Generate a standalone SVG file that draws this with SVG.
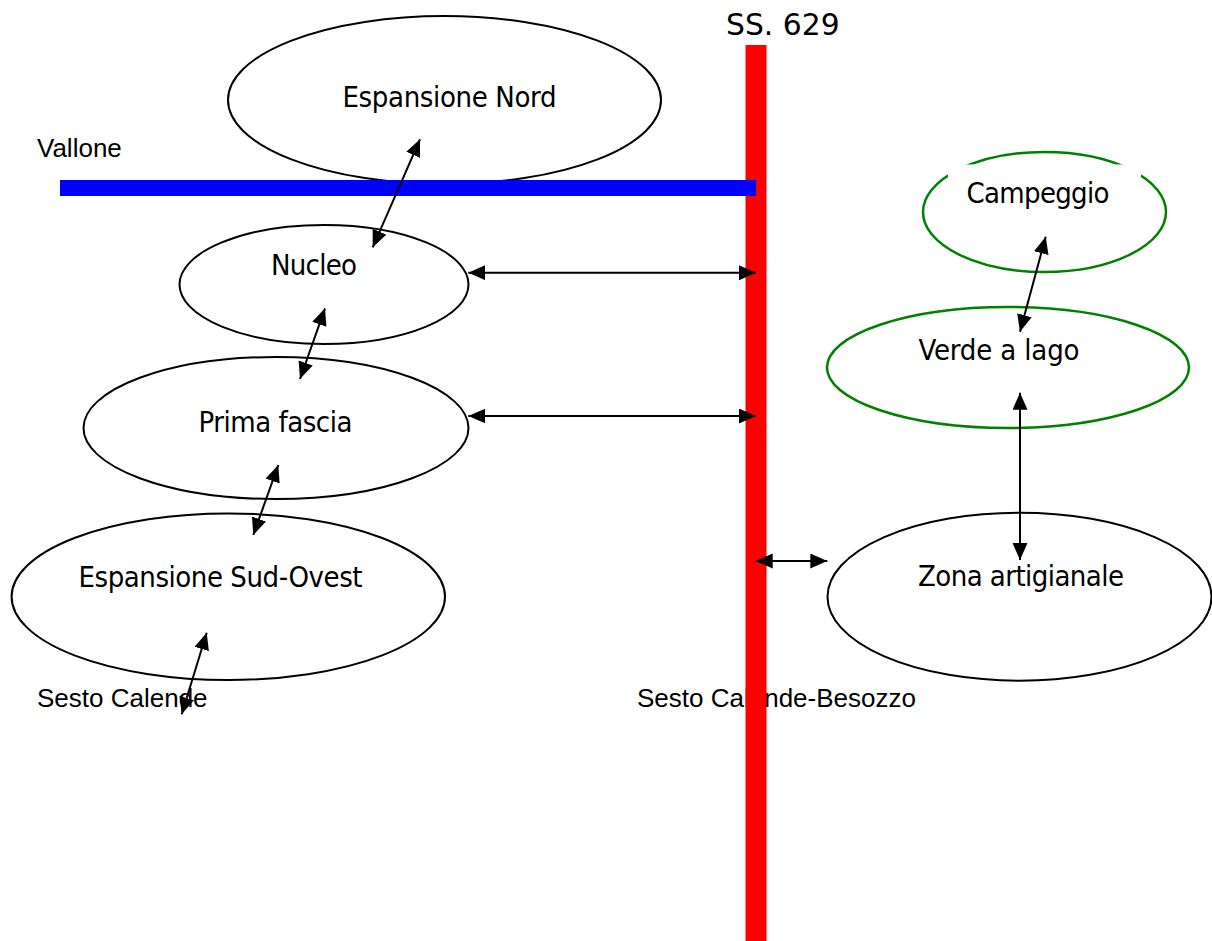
<svg xmlns="http://www.w3.org/2000/svg" width="1212" height="941" viewBox="0 0 1212 941">
<style>
.node{fill:none;stroke:#000;stroke-width:2}
.green{fill:none;stroke:#008000;stroke-width:2.5}
.lbl{font-family:"DejaVu Sans Condensed","DejaVu Sans",sans-serif;font-stretch:condensed;font-size:29px;fill:#000}
.small{font-family:"Liberation Sans",Arial,sans-serif;font-size:26px;fill:#000}
.conn line{stroke:#000;stroke-width:2;marker-start:url(#ah);marker-end:url(#ah)}
</style>
<defs>
<marker id="ah" markerUnits="userSpaceOnUse" markerWidth="18" markerHeight="16" refX="17" refY="7.5" orient="auto-start-reverse" viewBox="0 0 18 16">
<path d="M0,0 L17,7.5 L0,15 z" fill="#000"/>
</marker>
</defs>
<rect width="1212" height="941" fill="#fff"/>
<text class="small" x="37" y="157">Vallone</text>
<text class="small" x="37" y="707">Sesto Calende</text>
<text class="small" x="637" y="707">Sesto Calende-Besozzo</text>
<text x="726" y="35" style="font-family:'DejaVu Sans',Verdana,sans-serif;font-size:29.8px">SS. 629</text>
<g id="espansione-nord"><ellipse class="node" cx="444.5" cy="100" rx="216.5" ry="84"/><text class="lbl" x="342.5" y="107" textLength="214">Espansione Nord</text></g>
<g id="nucleo"><ellipse class="node" cx="324" cy="284.5" rx="144.5" ry="59.5"/><text class="lbl" x="271" y="274.5" textLength="86">Nucleo</text></g>
<g id="prima-fascia"><ellipse class="node" cx="276" cy="428" rx="192.5" ry="71"/><text class="lbl" x="198.5" y="431.7" textLength="154">Prima fascia</text></g>
<g id="espansione-sud-ovest"><ellipse class="node" cx="228.3" cy="596.7" rx="216.7" ry="83.3"/><text class="lbl" x="78.5" y="587.3" textLength="284">Espansione Sud-Ovest</text></g>
<g id="zona-artigianale"><ellipse class="node" cx="1019.5" cy="596.7" rx="192" ry="84"/><text class="lbl" x="918" y="586" textLength="206">Zona artigianale</text></g>
<g id="campeggio"><ellipse class="green" cx="1044.5" cy="212" rx="121.5" ry="60"/><rect x="948" y="164.5" width="193" height="40" fill="#fff"/><text class="lbl" x="966.5" y="202.7" textLength="143">Campeggio</text></g>
<g id="verde-a-lago"><ellipse class="green" cx="1008" cy="367.5" rx="181" ry="60.5"/><rect x="900" y="320" width="217" height="30" fill="#fff"/><text class="lbl" x="918.5" y="360" textLength="161">Verde a lago</text></g>
<g id="roads">
<rect x="745.5" y="45" width="21" height="896" fill="#f00"/>
<rect x="60" y="180" width="696" height="16" fill="#00f"/>
</g>
<g class="conn" id="connectors">
<line x1="372.7" y1="247.3" x2="420" y2="139.3"/>
<line x1="300" y1="379" x2="325" y2="308.3"/>
<line x1="253.3" y1="535" x2="278.3" y2="465"/>
<line x1="181.7" y1="714.3" x2="206.7" y2="632.7"/>
<line x1="468.3" y1="272.7" x2="756" y2="272.7"/>
<line x1="468.3" y1="416" x2="756" y2="416"/>
<line x1="755.7" y1="561" x2="827.3" y2="561"/>
<line x1="1020" y1="331.7" x2="1045.7" y2="236.7"/>
<line x1="1020" y1="560" x2="1020" y2="392.7"/>
</g>
</svg>
